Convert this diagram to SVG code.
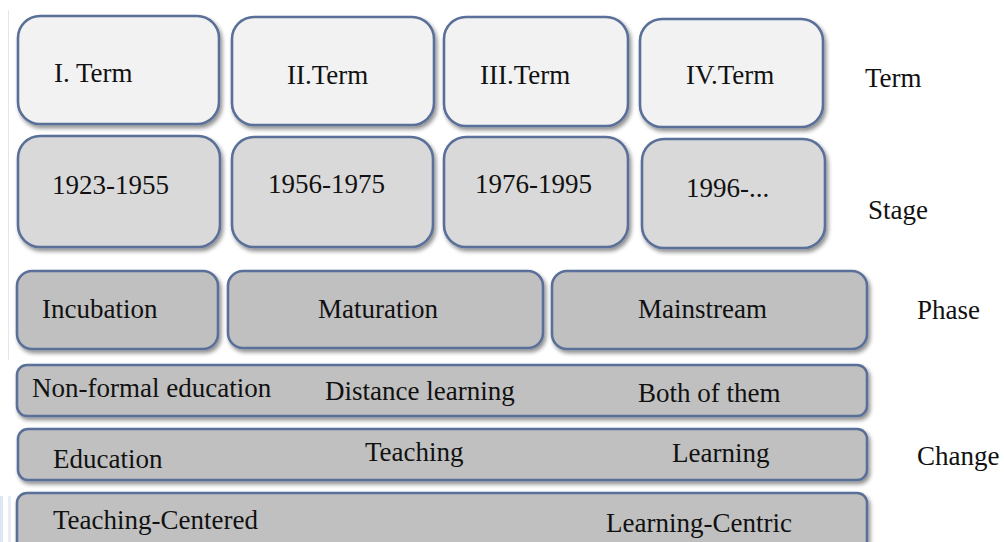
<svg xmlns="http://www.w3.org/2000/svg" width="1004" height="542" viewBox="0 0 1004 542">
  <style>
    .box { stroke: #5a6f98; stroke-width: 2.6; filter: url(#shadow); }
    .term { fill: #f2f2f2; }
    .stage { fill: #d9d9d9; }
    .band { fill: #c0c0c0; }
    .t { font-family: 'Liberation Serif', 'Times New Roman', Tinos, 'Noto Serif', 'DejaVu Serif', FreeSerif, Georgia, serif; font-size: 27px; fill: #111; }
  </style>
  <defs>
    <filter id="shadow" x="-5%" y="-10%" width="112%" height="130%">
      <feGaussianBlur in="SourceAlpha" stdDeviation="2"/>
      <feOffset dx="2" dy="3" result="blur"/>
      <feComponentTransfer><feFuncA type="linear" slope="0.45"/></feComponentTransfer>
      <feMerge>
        <feMergeNode/>
        <feMergeNode in="SourceGraphic"/>
      </feMerge>
    </filter>
  </defs>

  <rect width="1004" height="542" fill="#ffffff"/>
  <!-- faint page edge on the left -->
  <line x1="8.5" y1="10" x2="8.5" y2="360" stroke="#e6e6e6" stroke-width="1"/>
  <rect x="0" y="496" width="3" height="46" fill="#dde6f3"/>
  <rect x="8" y="496" width="3" height="46" fill="#e8eef7"/>

  <!-- Term row -->
  <g id="term-1"><rect class="box term" x="18" y="16" width="201" height="108" rx="22"/><text class="t" x="54" y="82">I. Term</text></g>
  <g id="term-2"><rect class="box term" x="232" y="17" width="202" height="108" rx="22"/><text class="t" x="287" y="84">II.Term</text></g>
  <g id="term-3"><rect class="box term" x="444" y="17" width="184" height="109" rx="22"/><text class="t" x="480" y="84">III.Term</text></g>
  <g id="term-4"><rect class="box term" x="640" y="19" width="183" height="108" rx="22"/><text class="t" x="686" y="84">IV.Term</text></g>
  <g id="label-term"><text class="t" x="865" y="87">Term</text></g>

  <!-- Stage row -->
  <g id="stage-1"><rect class="box stage" x="18" y="136" width="202" height="111" rx="22"/><text class="t" x="52" y="194">1923-1955</text></g>
  <g id="stage-2"><rect class="box stage" x="232" y="137" width="201" height="110" rx="22"/><text class="t" x="268" y="193">1956-1975</text></g>
  <g id="stage-3"><rect class="box stage" x="444" y="137" width="184" height="110" rx="22"/><text class="t" x="475" y="193">1976-1995</text></g>
  <g id="stage-4"><rect class="box stage" x="642" y="139" width="183" height="109" rx="22"/><text class="t" x="686" y="197">1996-...</text></g>
  <g id="label-stage"><text class="t" x="868" y="219">Stage</text></g>

  <!-- Phase row -->
  <g id="phase-1"><rect class="box band" x="17" y="271" width="201" height="78" rx="15"/><text class="t" x="42" y="318">Incubation</text></g>
  <g id="phase-2"><rect class="box band" x="228" y="271" width="315" height="77" rx="15"/><text class="t" x="318" y="318">Maturation</text></g>
  <g id="phase-3"><rect class="box band" x="552" y="271" width="315" height="78" rx="15"/><text class="t" x="638" y="318">Mainstream</text></g>
  <g id="label-phase"><text class="t" x="917" y="319">Phase</text></g>

  <!-- Change bands -->
  <g id="change-1">
    <rect class="box band" x="17" y="365" width="850" height="51" rx="10"/>
    <text class="t" x="32" y="397">Non-formal education</text>
    <text class="t" x="325" y="400">Distance learning</text>
    <text class="t" x="638" y="402">Both of them</text>
  </g>
  <g id="change-2">
    <rect class="box band" x="18" y="429" width="849" height="51" rx="10"/>
    <text class="t" x="53" y="468">Education</text>
    <text class="t" x="365" y="461">Teaching</text>
    <text class="t" x="672" y="462">Learning</text>
  </g>
  <g id="change-3">
    <rect class="box band" x="17" y="493" width="850" height="70" rx="10"/>
    <text class="t" x="53" y="529">Teaching-Centered</text>
    <text class="t" x="606" y="532">Learning-Centric</text>
  </g>
  <g id="label-change"><text class="t" x="917" y="465">Change</text></g>

  <g id="connectors"></g>
</svg>
